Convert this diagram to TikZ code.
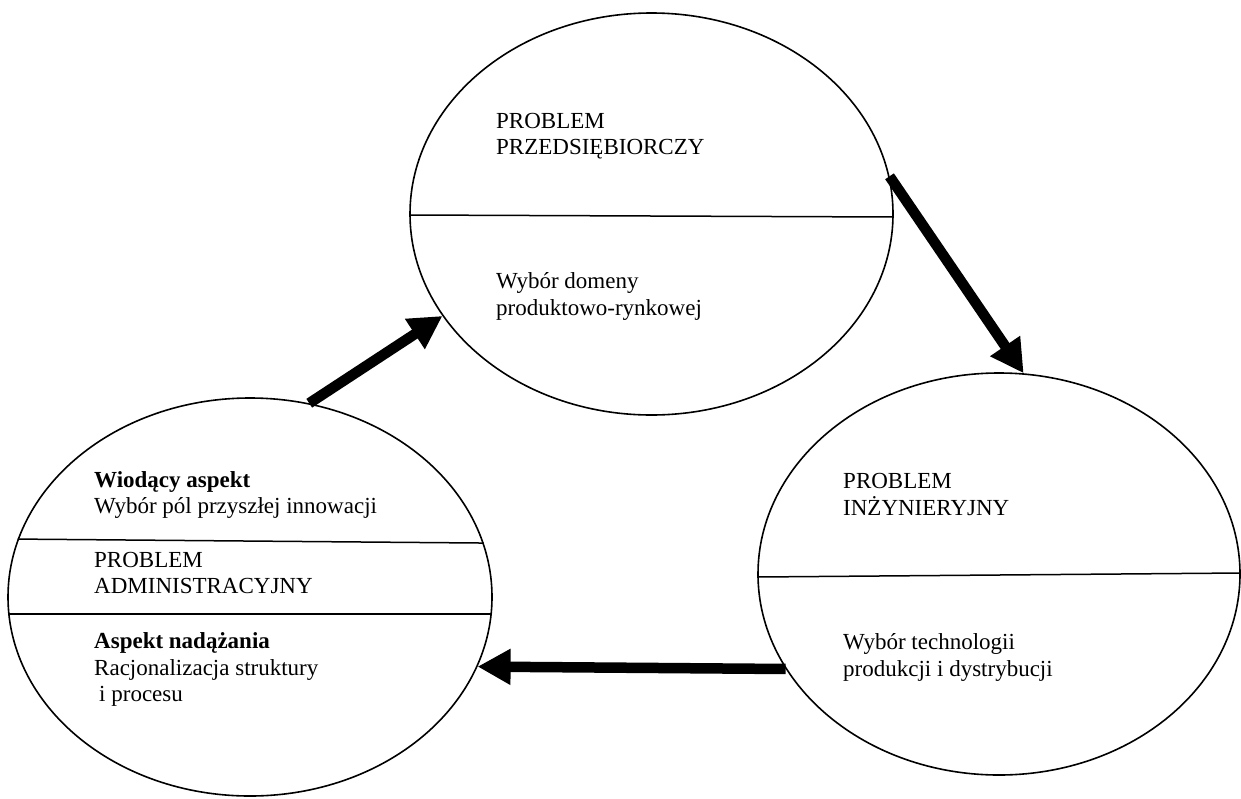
\documentclass[tikz,border=0pt]{standalone}
\usepackage{fontspec}
\setmainfont{Liberation Serif}
\usetikzlibrary{shapes.geometric,arrows.meta}

\begin{document}
\begin{tikzpicture}[x=1pt,y=-1pt,
  oval/.style={draw,ellipse,line width=1.6pt,inner sep=0pt},
  divider/.style={line width=1.5pt},
  txt/.style={anchor=base west,inner sep=0pt,font=\fontsize{23}{26.5}\selectfont},
  bigarrow/.style={line width=10.5pt,-{Triangle[length=33pt,width=34pt]}}]
  \useasboundingbox (0,0) rectangle (1241,798);

  % the three problem areas
  \node[oval,minimum width=483pt,minimum height=402pt] (top) at (651.5,214) {};
  \node[oval,minimum width=482pt,minimum height=402pt] (right) at (999,574) {};
  \node[oval,minimum width=484pt,minimum height=398pt] (left) at (250,597) {};

  % section lines
  \draw[divider] ([yshift=-1pt]top.west) -- ([yshift=-3pt]top.east);
  \draw[divider] ([yshift=-3pt]right.west) -- ([yshift=1pt]right.east);
  \draw[divider] (left.166.2) -- (left.13.8);
  \draw[divider] (left.184.27) -- (left.-4.27);

  % entrepreneurial problem
  \node[txt] (t1) at (496,128) {PROBLEM};
  \node[txt] (t2) at (496,154.5) {PRZEDSIĘBIORCZY};
  \node[txt] (t3) at (496,288) {Wybór domeny};
  \node[txt] (t4) at (496,315) {produktowo-rynkowej};

  % engineering problem
  \node[txt] (r1) at (843,488) {PROBLEM};
  \node[txt] (r2) at (843,515) {INŻYNIERYJNY};
  \node[txt] (r3) at (843,649) {Wybór technologii};
  \node[txt] (r4) at (843,676) {produkcji i dystrybucji};

  % administrative problem
  \node[txt,font=\fontsize{23}{26.5}\selectfont\bfseries] (l1) at (94,487) {Wiodący aspekt};
  \node[txt] (l2) at (94,513) {Wybór pól przyszłej innowacji};
  \node[txt] (l3) at (94,567) {PROBLEM};
  \node[txt] (l4) at (94,593) {ADMINISTRACYJNY};
  \node[txt,font=\fontsize{23}{26.5}\selectfont\bfseries] (l5) at (94,648) {Aspekt nadążania};
  \node[txt] (l6) at (94,675) {Racjonalizacja struktury};
  \node[txt] (l7) at (99,701) {i procesu};

  % cycle arrows
  \draw[bigarrow] (left.73.8) -- (top.206.5);
  \draw[bigarrow] (top.9.1) -- (right.83.2);
  \draw[bigarrow] (right.204.9) -- (left.-17);
\end{tikzpicture}
\end{document}
